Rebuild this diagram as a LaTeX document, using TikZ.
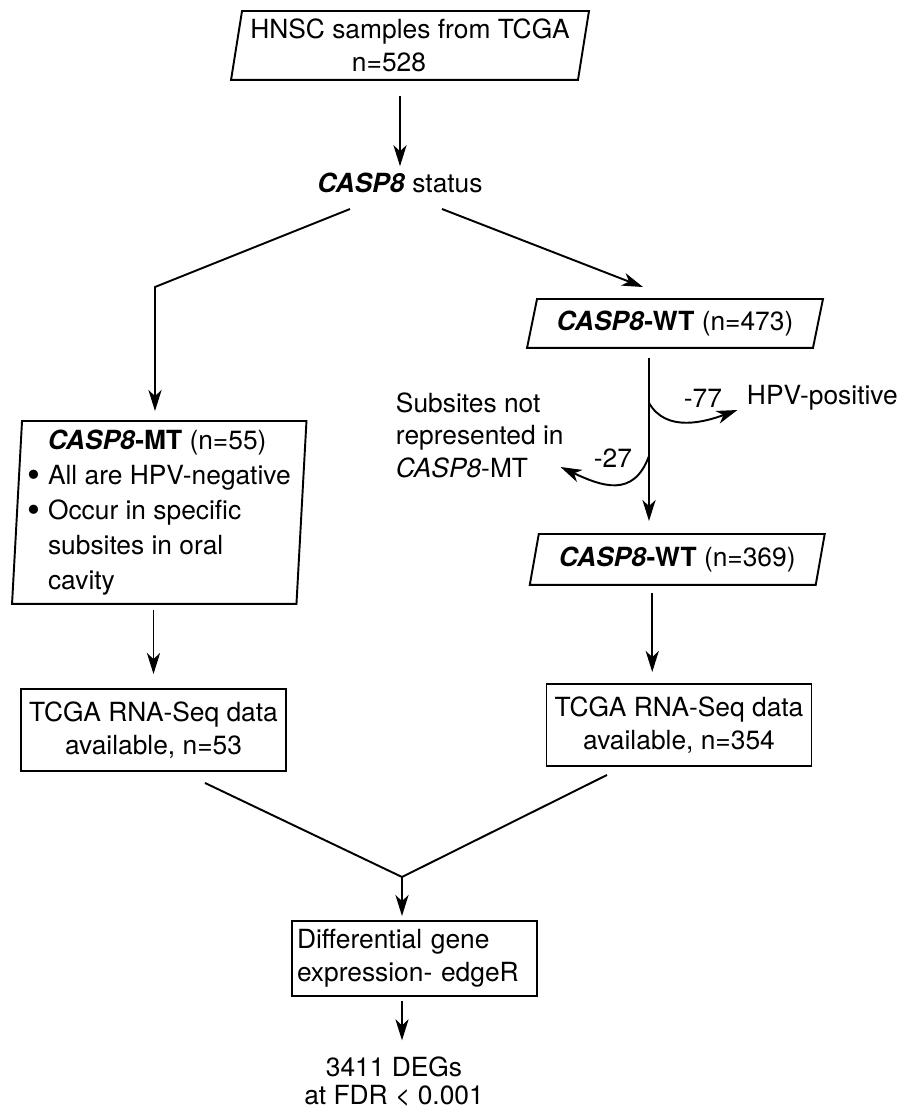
\documentclass[tikz,border=0pt]{standalone}
\usepackage{fontspec}
\usepackage{graphicx}
\setmainfont{TeX Gyre Heros}
\usetikzlibrary{arrows.meta}

\newcommand{\gene}{\textbf{\textit{CASP8}}}
\newcommand{\bigdot}{\raisebox{-0.2ex}{\scalebox{1.4}{\textbullet}}\ }

\begin{document}
\begin{tikzpicture}[
		line width=1.1pt,
		font=\fontsize{15}{19}\selectfont,
		arr/.style={-{Stealth[length=12pt,width=7.5pt,inset=3.5pt]}},
		slantbox/.style={inner sep=0pt, align=center},
		databox/.style={draw, inner xsep=2pt, align=center, minimum width=5.3cm, minimum height=1.64cm},
		lbl/.style={inner sep=2pt}
	]
	% page
	\useasboundingbox (0,0) rectangle (18.16,22.24);

	% boxes and labels
	\node[slantbox, minimum width=6.9cm, minimum height=1.34cm] (hnsc) at (8.2,21.33) {HNSC samples from TCGA\\n=528\hspace*{0.84cm}};
	\node (status) at (8.0,18.58) {\gene{} status};
	\node[slantbox, align=left, minimum width=5.65cm, minimum height=3.62cm, font=\fontsize{15}{20}\selectfont] (mt) at (3.185,11.99)
		{\hspace*{0.4cm}\gene\textbf{-MT} (n=55)\\
		\bigdot All are HPV-negative\\
		\bigdot Occur in specific\\
		\phantom{\bigdot}subsites in oral\\
		\phantom{\bigdot}cavity};
	\node[slantbox, minimum width=5.68cm, minimum height=0.94cm] (wt) at (13.5,15.77) {\gene\textbf{-WT} (n=473)};
	\node[slantbox, minimum width=5.68cm, minimum height=0.98cm] (wtb) at (13.545,11.05) {\gene\textbf{-WT} (n=369)};
	\node[lbl, anchor=west] (hpv) at (14.85,14.28) {HPV-positive};
	\node[lbl, anchor=west, align=left, font=\fontsize{15}{18.5}\selectfont] (sub) at (7.83,13.54) {Subsites not\\represented in\\\textit{CASP8}-MT};
	\node[lbl] (m77) at (14.06,14.28) {-77};
	\node[lbl] (m27) at (12.26,13.08) {-27};
	\node[databox] (rnamt) at (3.07,7.64) {TCGA RNA-Seq data\\available, n=53};
	\node[databox] (rnawt) at (13.58,7.74) {TCGA RNA-Seq data\\available, n=354};
	\node[draw, inner xsep=0.1cm, text width=4.7cm, align=left, minimum height=1.5cm] (diff) at (8.29,3.07) {Differential gene\\expression- edgeR};
	\node[font=\fontsize{15}{16}\selectfont, align=center] (deg) at (7.88,0.6) {3411 DEGs\\at FDR < 0.001};

	% slanted borders
	\foreach \n/\s in {hnsc/0.11, mt/0.1, wt/0.1, wtb/0.09}
		\draw ([xshift=\s cm]\n.north west) -- ([xshift=\s cm]\n.north east) -- ([xshift=-\s cm]\n.south east) -- ([xshift=-\s cm]\n.south west) -- cycle;

	% connectors
	\coordinate (elbow) at (3.1,16.5);
	\coordinate (merge) at (8.04,4.70);
	\draw[arr, shorten <=0.32cm] (hnsc.south -| status.north) -- (status.north);
	\draw[arr, shorten >=0.2cm] ([xshift=-1cm,yshift=-0.52cm]status.center) -- (elbow) -- (elbow |- mt.north);
	\draw[arr] ([xshift=0.84cm,yshift=-0.52cm]status.center) -- ([xshift=-0.64cm,yshift=0.24cm]wt.north);
	\draw[arr, shorten <=0.2cm, shorten >=0.26cm] ([xshift=-0.52cm]wt.south) coordinate (wtline) -- (wtline |- wtb.north);
	\draw[arr] ([yshift=-1.1cm]wtline) to[out=-60, in=200] ([xshift=-0.1cm,yshift=-0.24cm]hpv.west);
	\draw[arr] ([yshift=-2.16cm]wtline) to[out=-110, in=-25, looseness=1.3] ([xshift=-0.15cm,yshift=-0.64cm]sub.east);
	\draw[arr, shorten <=0.12cm, shorten >=0.28cm] (mt.south -| rnamt.north) -- (rnamt.north);
	\draw[arr, shorten <=0.16cm, shorten >=0.22cm] ([xshift=-0.5cm]wtb.south) coordinate (wtout) -- (wtout |- rnawt.north);
	\draw ([xshift=1.03cm,yshift=-0.22cm]rnamt.south) -- (merge) -- ([xshift=-1.44cm,yshift=-0.16cm]rnawt.south);
	\draw[arr, shorten >=0.08cm] (merge) -- (merge |- diff.north);
	\draw[arr, shorten <=0.08cm, shorten >=0.2cm] (diff.south -| merge) -- (deg.north -| merge);
\end{tikzpicture}
\end{document}
